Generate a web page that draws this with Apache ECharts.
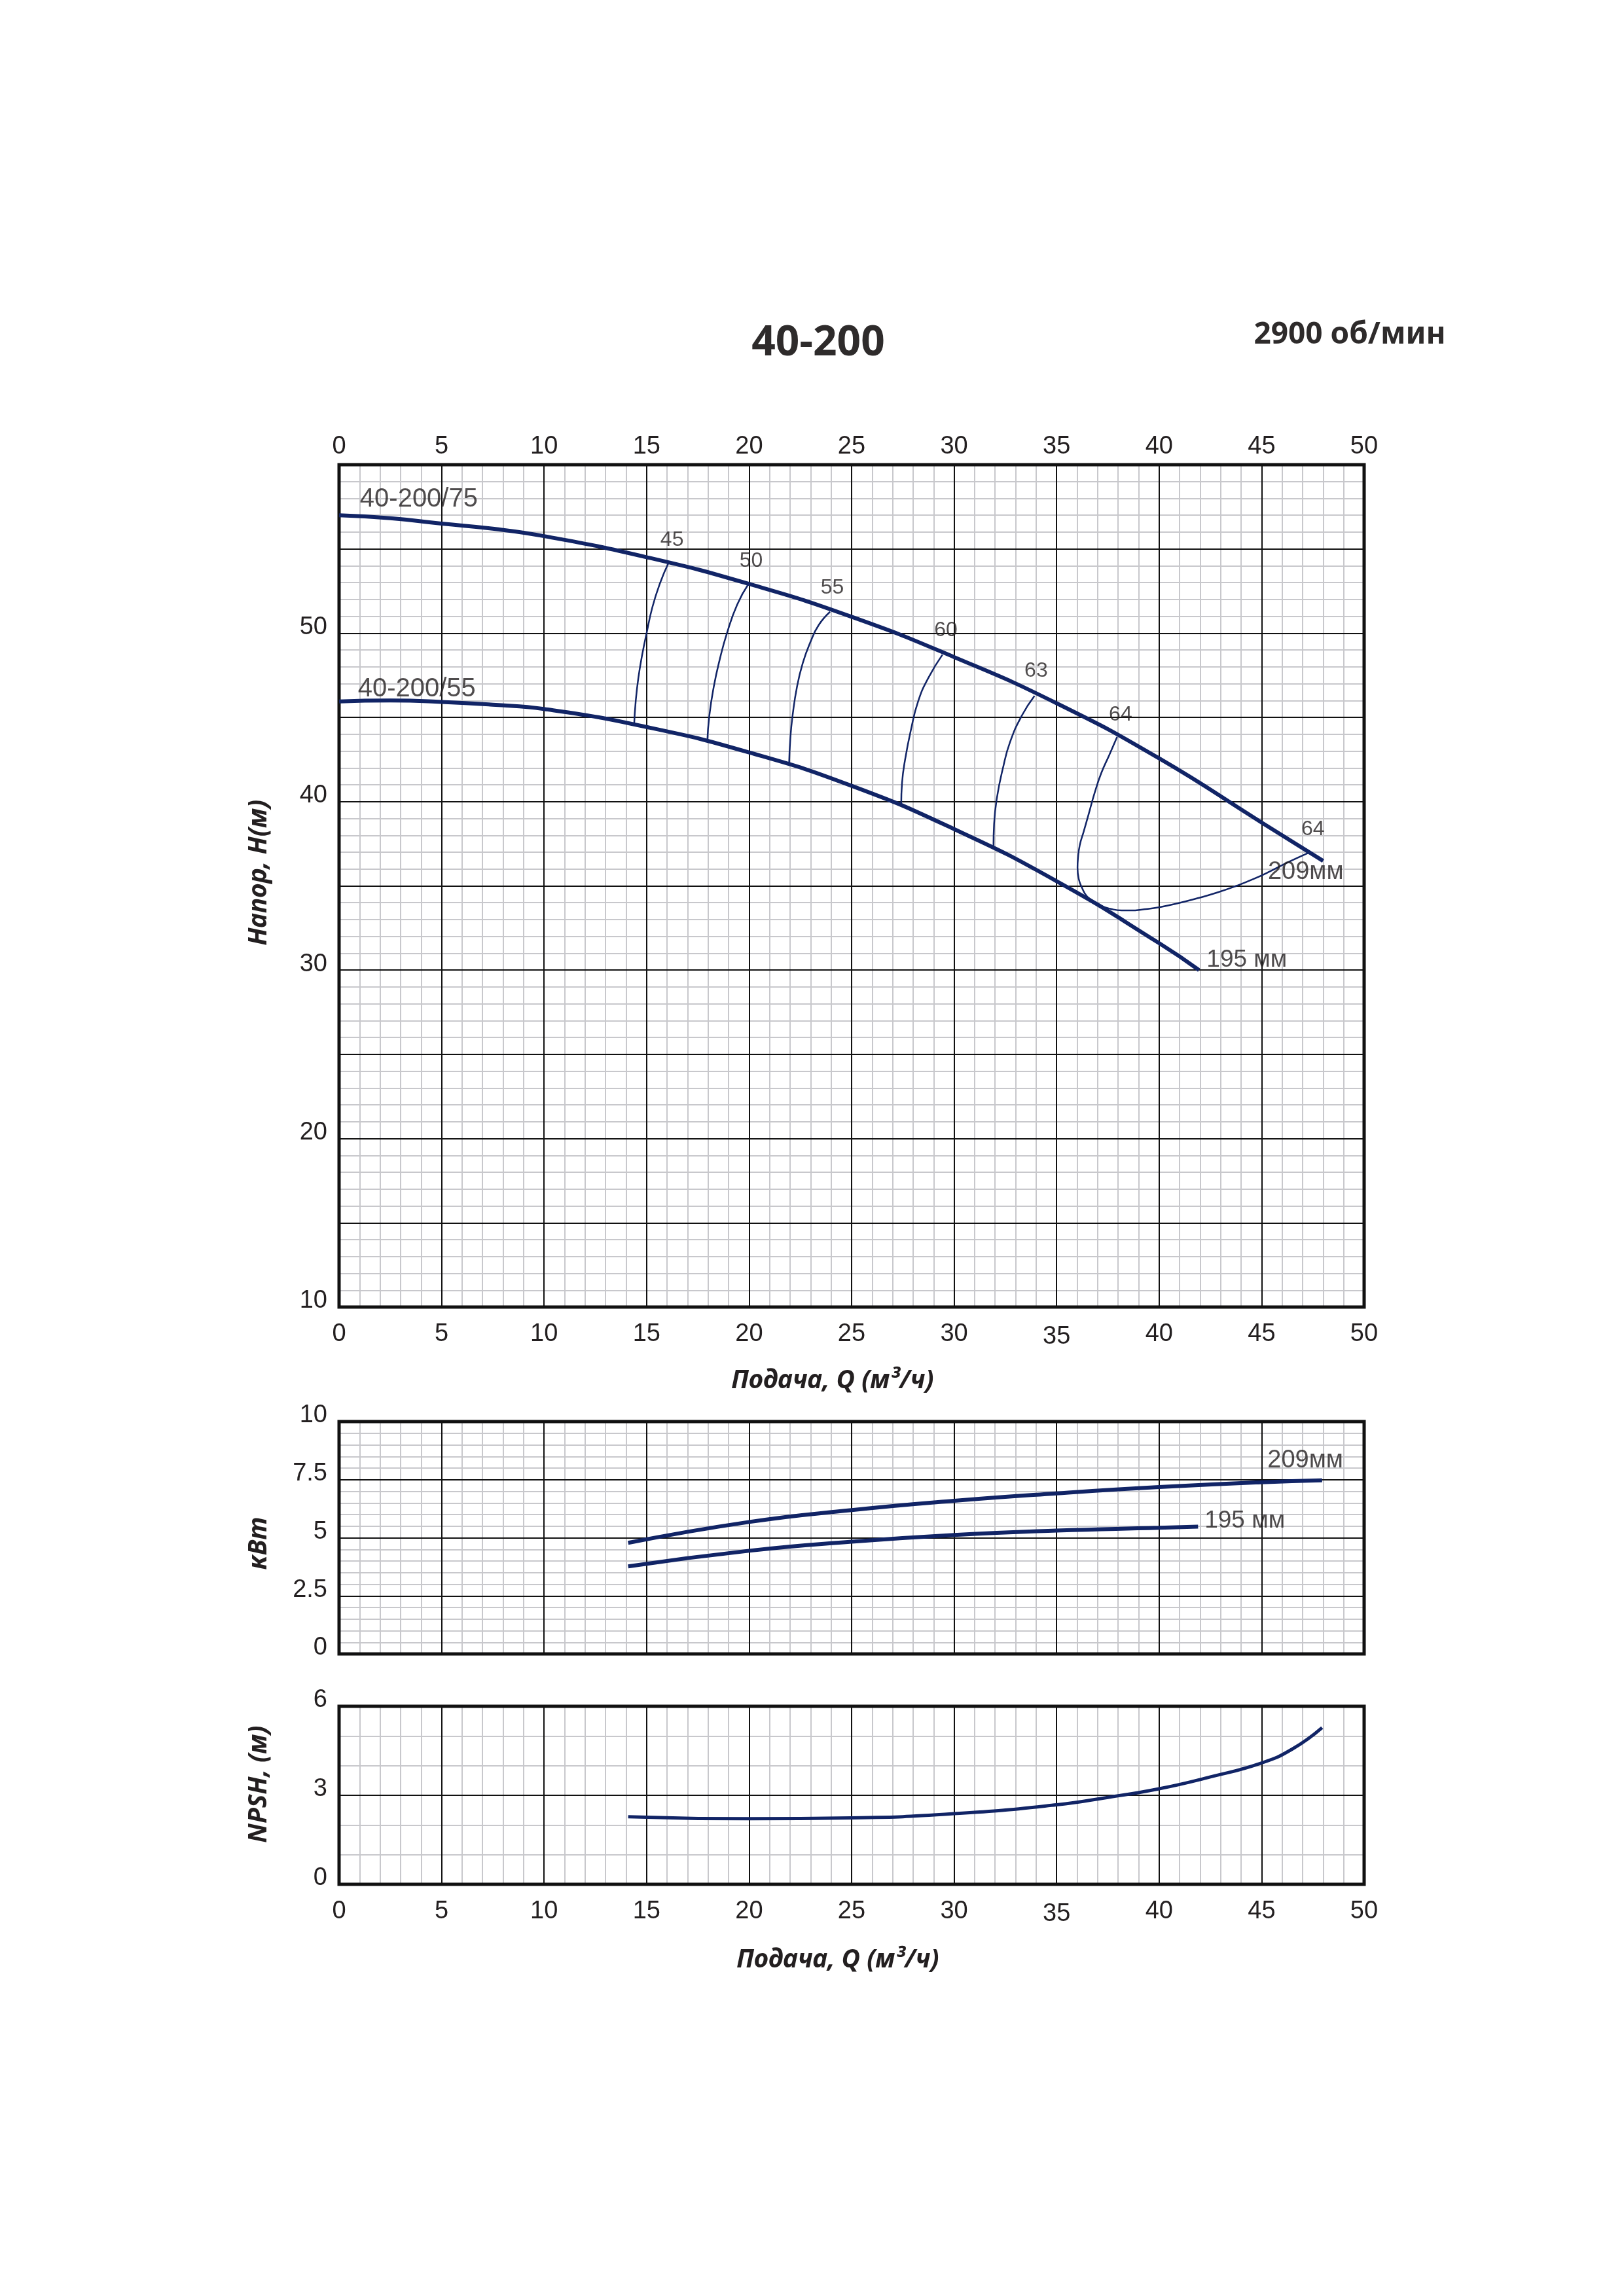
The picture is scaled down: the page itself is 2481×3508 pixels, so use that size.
<!DOCTYPE html>
<html>
<head>
<meta charset="UTF-8">
<title>40-200</title>
<script src="https://cdn.jsdelivr.net/npm/echarts@6.0.0/dist/echarts.min.js"></script>
<style>
    html, body { margin: 0; padding: 0; background: #fff; }
    #chart { width: 2481px; height: 3508px; }
</style>
</head>
<body>
<div id="chart"></div>
<script type="text/javascript">
// ---- Q-H curves (Q, м3/ч ; H, м) ----
var q75 = [0, 2.5, 5, 7.5, 10, 15, 20, 25, 30, 35, 40, 45, 48];
var h75 = [57.0, 56.82, 56.5, 56.2, 55.76, 54.51, 52.92, 50.97, 48.58, 45.84, 42.57, 38.76, 36.48];
var q55 = [0, 2.5, 5, 7.5, 10, 15, 20, 25, 30, 35, 40, 41.95];
var h55 = [45.95, 46.0, 45.92, 45.75, 45.5, 44.43, 42.92, 40.94, 38.37, 35.28, 31.6, 30.0];

// ---- КПД curves, pairs of [Q, H] ----
var eff45 = [[14.39, 44.5], [14.47, 45.97], [14.6, 47.36], [14.79, 48.75], [15.0, 50.0],
             [15.28, 51.53], [15.64, 52.92], [16.07, 54.17]];
var eff50 = [[17.96, 43.54], [18.06, 45.1], [18.28, 46.84], [18.56, 48.4], [18.92, 50.0],
             [19.42, 51.7], [19.97, 52.92]];
var eff55 = [[21.95, 42.19], [22.01, 43.72], [22.12, 45.1], [22.34, 46.84], [22.62, 48.23],
             [22.98, 49.44], [23.4, 50.49], [23.95, 51.27]];
var eff60 = [[27.42, 39.84], [27.46, 41.11], [27.61, 42.5], [27.89, 44.24], [28.25, 45.97],
             [28.75, 47.36], [29.43, 48.72]];
var eff63 = [[31.92, 37.33], [31.95, 38.68], [32.09, 40.24], [32.38, 41.98], [32.73, 43.54],
             [33.3, 45.1], [33.92, 46.28]];
var eff64 = [[37.95, 43.84], [37.57, 42.77], [37.18, 41.7], [36.85, 40.5], [36.57, 39.29],
             [36.32, 38.22], [36.13, 37.42], [36.04, 36.62], [36.02, 36.08], [36.08, 35.41],
             [36.24, 34.88], [36.46, 34.41], [36.8, 34.08], [37.18, 33.81], [37.62, 33.64],
             [38.17, 33.54], [38.61, 33.54], [39.27, 33.61], [40.04, 33.74], [40.93, 33.97],
             [41.92, 34.28], [42.85, 34.61], [43.79, 35.01], [44.61, 35.41], [45.44, 35.88],
             [46.32, 36.42], [47.26, 36.95]];

// ---- мощность, кВт ----
var qP209 = [14.1, 20, 25, 30, 35, 40, 45, 47.95];
var p209 = [4.78, 5.68, 6.19, 6.59, 6.91, 7.18, 7.39, 7.47];
var qP195 = [14.1, 20, 25, 30, 35, 40, 41.9];
var p195 = [3.77, 4.44, 4.83, 5.12, 5.31, 5.43, 5.48];

// ---- NPSH, м ----
var qN = [14.1, 20, 25, 30, 35, 37.5, 40, 42.5, 45, 46.5, 47.95];
var npsh = [2.28, 2.21, 2.24, 2.38, 2.68, 2.93, 3.22, 3.62, 4.09, 4.56, 5.28];

// ---- tick labels ----
var hLabels = [10, 20, 30, 40, 50];

// ---- curve captions [text, Q, H] ----
var mainNames = [['40-200/75', 1.0, 57.94], ['40-200/55', 0.9, 46.67]];
var mainNamesS = [['195 мм', 42.3, 30.6]];
var effNames = [['45', 16.24, 55.52], ['50', 20.1, 54.3], ['55', 24.06, 52.7], ['60', 29.6, 50.17],
                ['63', 34.0, 47.74], ['64', 38.12, 45.17], ['64', 47.5, 38.36]];
var mainNamesC = [['209мм', 47.15, 35.82]];
var powerNames = [['195 мм', 42.2, 5.72]];
var powerNamesC = [['209мм', 47.13, 8.31]];

var NAVY = '#112466';
var TXT = '#231f20';

var pairs = function (xs, ys) {
    var out = [];
    for (var i = 0; i < xs.length; i++) {
        out.push([xs[i], ys[i]]);
    }
    return out;
};

var axisText = {fontFamily: 'Liberation Sans', fontSize: 38, color: TXT};

// minor grid axes (gray), the labels live here
var minorX = function (grid, show) {
    return {
        type: 'value', gridIndex: grid, position: 'bottom', min: 0, max: 50, interval: 5, z: 1,
        axisLine: {show: false}, axisTick: {show: false},
        axisLabel: Object.assign({
            show: show, margin: 23,
            formatter: function (v) { return v === 35 ? '{low|35}' : String(v); },
            rich: {low: Object.assign({padding: [4, 0, 0, 0]}, axisText)}
        }, axisText),
        splitLine: {show: false},
        minorTick: {show: false, splitNumber: 5},
        minorSplitLine: {show: true, lineStyle: {color: '#c8c8cc', width: 2}}
    };
};
// major grid axes (black)
var majorX = function (grid, show) {
    return {
        type: 'value', gridIndex: grid, position: 'top', min: 0, max: 50, interval: 5, z: 2,
        axisLine: {show: false}, axisTick: {show: false},
        axisLabel: Object.assign({show: show, margin: 8}, axisText),
        splitLine: {show: true, lineStyle: {color: '#111', width: 2}}
    };
};
var minorY = function (grid, min, max, interval, split, fmt) {
    return {
        type: 'value', gridIndex: grid, position: 'left', min: min, max: max, interval: interval, z: 1,
        axisLine: {show: false}, axisTick: {show: false},
        axisLabel: Object.assign({margin: 18, verticalAlign: 'bottom', lineHeight: 18, formatter: fmt}, axisText),
        splitLine: {show: false},
        minorTick: {show: false, splitNumber: split},
        minorSplitLine: {show: true, lineStyle: {color: '#c8c8cc', width: 2}}
    };
};
var majorY = function (grid, min, max, interval) {
    return {
        type: 'value', gridIndex: grid, position: 'right', min: min, max: max, interval: interval, z: 2,
        axisLine: {show: false}, axisTick: {show: false}, axisLabel: {show: false},
        splitLine: {show: true, lineStyle: {color: '#111', width: 2}}
    };
};

var curve = function (data, xi, width) {
    return {
        type: 'line', xAxisIndex: xi, yAxisIndex: xi, data: data, smooth: true,
        smoothConstraint: false,
        showSymbol: false, symbol: 'none', z: 5,
        lineStyle: {color: NAVY, width: width}
    };
};

var captions = function (list, xi, size, pos) {
    return {
        type: 'scatter', xAxisIndex: xi, yAxisIndex: xi, symbolSize: 1, z: 6,
        itemStyle: {color: 'rgba(0,0,0,0)'},
        data: list.map(function (d) { return {name: d[0], value: [d[1], d[2]]}; }),
        label: {
            show: true, position: pos, distance: 0, formatter: '{b}',
            fontFamily: 'Liberation Sans', fontSize: size, color: TXT
        }
    };
};

var gridBox = function (top, height) {
    return {
        left: 518, top: top, width: 1566, height: height, show: true, z: 3,
        backgroundColor: 'transparent', borderColor: '#111', borderWidth: 5
    };
};

var sideText = function (text, x, y, rot) {
    return {
        type: 'text', x: x, y: y, rotation: rot ? Math.PI / 2 : 0, z: 10,
        style: {
            text: text, fill: TXT, align: 'center', verticalAlign: 'middle',
            fontFamily: 'Noto Sans', fontSize: 39, fontWeight: 'bold', fontStyle: 'italic'
        }
    };
};

var chart = echarts.init(document.getElementById('chart'));
var option = {
    backgroundColor: '#fff',
    animation: false,
    grid: [gridBox(710, 1287), gridBox(2172, 355), gridBox(2607, 272)],
    xAxis: [
        minorX(0, true), majorX(0, true),
        minorX(1, false), majorX(1, false),
        minorX(2, true), majorX(2, false)
    ],
    yAxis: [
        minorY(0, 10, 60, 5, 5, function (v) { return hLabels.indexOf(v) >= 0 ? String(v) : ''; }),
        majorY(0, 10, 60, 5),
        minorY(1, 0, 10, 2.5, 5),
        majorY(1, 0, 10, 2.5),
        minorY(2, 0, 6, 3, 3),
        majorY(2, 0, 6, 3)
    ],
    graphic: [
        {type: 'text', x: 1250, y: 525, z: 10,
            style: {text: '40-200', fill: '#2e2b2b', align: 'center', verticalAlign: 'middle',
                fontFamily: 'Noto Sans', fontSize: 64, fontWeight: 'bold'}},
        {type: 'text', x: 2062, y: 512, z: 10,
            style: {text: '2900 об/мин', fill: '#2e2b2b', align: 'center', verticalAlign: 'middle',
                fontFamily: 'Noto Sans', fontSize: 46, fontWeight: 'bold'}},
        sideText('Напор, H(м)', 396, 1333, true),
        sideText('Подача, Q (м³/ч)', 1272, 2110, false),
        sideText('кВт', 396, 2358, true),
        sideText('NPSH, (м)', 396, 2726, true),
        sideText('Подача, Q (м³/ч)', 1280, 2995, false)
    ],
    series: [
        curve(pairs(q75, h75), 0, 6),
        curve(pairs(q55, h55), 0, 6),
        curve(eff45, 0, 2.5),
        curve(eff50, 0, 2.5),
        curve(eff55, 0, 2.5),
        curve(eff60, 0, 2.5),
        curve(eff63, 0, 2.5),
        curve(eff64, 0, 2.5),
        captions(mainNames, 0, 40, 'right'),
        captions(mainNamesS, 0, 37, 'right'),
        captions(mainNamesC, 0, 38, 'inside'),
        captions(effNames, 0, 32, 'inside'),
        curve(pairs(qP209, p209), 2, 6),
        curve(pairs(qP195, p195), 2, 6),
        captions(powerNames, 2, 37, 'right'),
        captions(powerNamesC, 2, 38, 'inside'),
        curve(pairs(qN, npsh), 4, 5)
    ]
};
chart.setOption(option);
</script>
</body>
</html>
